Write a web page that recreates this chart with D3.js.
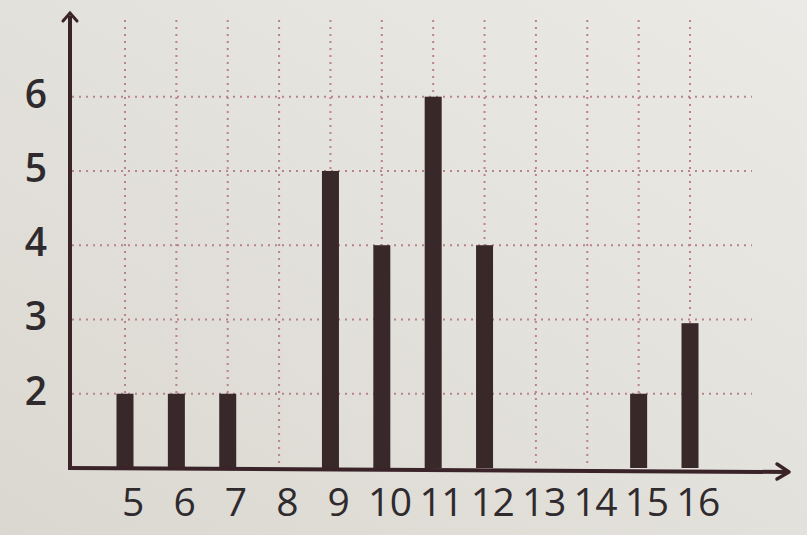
<!DOCTYPE html>
<html><head><meta charset="utf-8">
<script src="https://cdn.jsdelivr.net/npm/d3@7"></script>
<style>html,body{margin:0;padding:0;background:#e4e2dc;}svg{display:block;}</style>
</head><body>
<svg id="chart" width="807" height="535"></svg>
<script>
const categories = ["5","6","7","8","9","10","11","12","13","14","15","16"];
const values = [2, 2, 2, null, 5, 4, 6, 4, null, null, 2, 2.95];
const yTicks = [2, 3, 4, 5, 6];

const svg = d3.select("#chart");
const W = 807, H = 535;

const defs = svg.append("defs");
const grad = defs.append("linearGradient").attr("id","bg").attr("x1","0").attr("y1","1").attr("x2","1").attr("y2","0");
grad.append("stop").attr("offset","0").attr("stop-color","#dad8d0");
grad.append("stop").attr("offset","0.5").attr("stop-color","#e3e1db");
grad.append("stop").attr("offset","1").attr("stop-color","#eceae6");
svg.append("rect").attr("width",W).attr("height",H).attr("fill","url(#bg)");

const axisX0 = 70, axisY0 = 468;
const x = d3.scalePoint().domain(categories).range([125, 690]);
const y = d3.scaleLinear().domain([1, 7.1]).range([axisY0, 15]);

const gridColor = "#b98389";
// horizontal grid
svg.append("g").selectAll("line").data(yTicks).join("line")
  .attr("x1", axisX0 + 2).attr("x2", 752)
  .attr("y1", d => y(d)).attr("y2", d => y(d))
  .attr("stroke", gridColor).attr("stroke-width", 2).attr("stroke-dasharray", "2,5");
// vertical grid
svg.append("g").selectAll("line").data(categories).join("line")
  .attr("x1", d => x(d)).attr("x2", d => x(d))
  .attr("y1", 20).attr("y2", axisY0)
  .attr("stroke", gridColor).attr("stroke-width", 2).attr("stroke-dasharray", "2,5");

// bars
const bw = 17;
svg.append("g").selectAll("rect").data(categories.map((c,i)=>({c, v: values[i]})).filter(d => d.v != null)).join("rect")
  .attr("x", d => x(d.c) - bw/2).attr("width", bw)
  .attr("y", d => y(d.v)).attr("height", d => axisY0 - y(d.v))
  .attr("fill", "#38282a");

// axes
const axisColor = "#3a2429";
svg.append("line").attr("x1", axisX0).attr("x2", axisX0).attr("y1", 16).attr("y2", axisY0 + 1.5)
  .attr("stroke", axisColor).attr("stroke-width", 4);
svg.append("path").attr("d", `M${axisX0-7},21 L${axisX0},13 L${axisX0+7},21`).attr("fill","none")
  .attr("stroke", axisColor).attr("stroke-width", 3).attr("stroke-linecap","round");
svg.append("line").attr("x1", axisX0 - 2).attr("x2", 786).attr("y1", axisY0).attr("y2", axisY0 + 4)
  .attr("stroke", axisColor).attr("stroke-width", 4);
svg.append("path").attr("d", `M777,${axisY0-4} L789,${axisY0+4} L777,${axisY0+11}`).attr("fill","none")
  .attr("stroke", axisColor).attr("stroke-width", 3.5).attr("stroke-linecap","round").attr("stroke-linejoin","round");

// y labels
svg.append("g").selectAll("text").data(yTicks).join("text")
  .attr("x", 47).attr("y", d => y(d) + 11)
  .attr("text-anchor", "end")
  .attr("font-family", "'Open Sans', sans-serif").attr("font-size", 39).attr("font-weight", 600)
  .attr("fill", "#2f2a2e")
  .text(d => d);

// x labels
svg.append("g").selectAll("text").data(categories).join("text")
  .attr("x", d => x(d) + 8).attr("y", 516)
  .attr("text-anchor", "middle")
  .attr("font-family", "'Open Sans', sans-serif").attr("font-size", 39).attr("font-weight", 500)
  .attr("fill", "#2f2a2e")
  .attr("letter-spacing", -0.5)
  .text(d => d);
</script>
</body></html>
